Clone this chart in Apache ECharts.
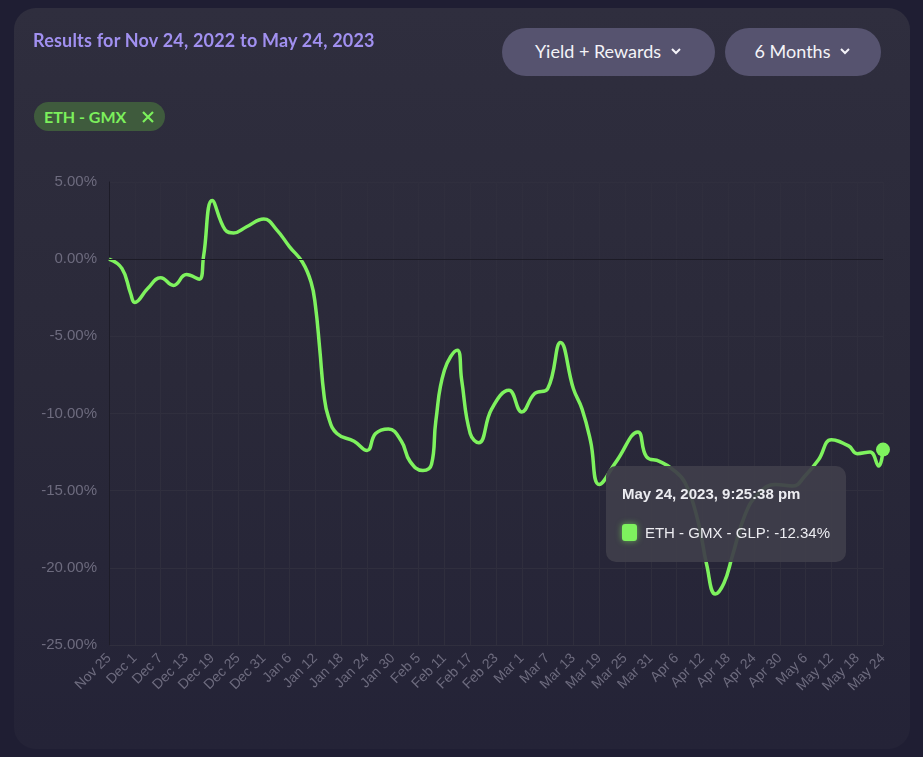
<!DOCTYPE html>
<html>
<head>
<meta charset="utf-8">
<script src="https://cdn.jsdelivr.net/npm/echarts@6/dist/echarts.min.js"></script>
<style>
  html,body{margin:0;padding:0;width:923px;height:757px;background:#1f1e33;overflow:hidden;font-family:"Lato","Liberation Sans",sans-serif;}
  #card{position:absolute;left:14px;top:8px;width:896px;height:741px;border-radius:22px;background:linear-gradient(180deg,#2f2e3e 0%,#2a2939 50%,#242337 100%);}
  #chart{position:absolute;left:0;top:0;width:923px;height:757px;}
  .title{position:absolute;left:33px;top:29px;font-size:18px;font-weight:bold;color:#a190f0;letter-spacing:0.2px;}
  .pill{position:absolute;top:28px;height:48px;border-radius:24px;background:#56536f;color:#f4f3f8;font-size:18px;display:flex;align-items:center;justify-content:center;gap:9px;padding-bottom:3px;box-sizing:border-box;}
  .chip{position:absolute;left:34px;top:102px;width:131px;height:29px;border-radius:15px;background:#3f5b3d;color:#7cf05c;font-size:16px;font-weight:bold;display:flex;align-items:center;padding-left:10px;box-sizing:border-box;}
</style>
</head>
<body>
<div id="card"></div>
<div id="chart"></div>
<div class="title">Results for Nov 24, 2022 to May 24, 2023</div>
<div class="pill" style="left:502px;width:213px;">Yield + Rewards <svg width="12" height="8" viewBox="0 0 12 8"><polyline points="2,2 6,6 10,2" fill="none" stroke="#f4f3f8" stroke-width="2"/></svg></div>
<div class="pill" style="left:725px;width:156px;">6 Months <svg width="12" height="8" viewBox="0 0 12 8"><polyline points="2,2 6,6 10,2" fill="none" stroke="#f4f3f8" stroke-width="2"/></svg></div>
<div class="chip">ETH - GMX<svg style="margin-left:15px" width="14" height="14" viewBox="0 0 14 14"><path d="M2,2 L12,12 M12,2 L2,12" stroke="#7cf05c" stroke-width="2.2"/></svg></div>
<script>
// Day offsets from Nov 25, 2022 and the portfolio return (%) read at those days
const days = [0,3,5,6,9,12,15,18,21,22,24,27,29,32,36,39,42,45,47,48,49,50,51,53,57,60,62,65,68,70,73,75,76,78,81,82,84,86,89,93,96,99,102,105,108,110,112,114,118,123,125,128,131,134,137,139,141,143,145,148,151,155,159,162,165,168,172,174,177,179,180];
const values = [0.0,-0.6,-2.2,-2.8,-1.9,-1.2,-1.7,-1.0,-1.3,0.2,3.8,1.9,1.7,2.1,2.6,1.9,0.8,-0.2,-1.5,-3.0,-5.8,-8.8,-10.2,-11.3,-11.8,-12.4,-11.3,-11.0,-11.8,-13.1,-13.7,-13.3,-10.5,-7.2,-5.9,-7.8,-11.3,-11.9,-9.7,-8.5,-9.9,-8.7,-8.4,-5.4,-8.4,-9.7,-11.8,-14.6,-13.1,-11.2,-12.8,-13.1,-13.6,-14.5,-17.0,-19.8,-21.7,-21.0,-19.2,-16.5,-15.2,-14.6,-14.7,-14.0,-13.0,-11.7,-12.1,-12.6,-12.5,-13.4,-12.34];
const tickLabels = ['Nov 25','Dec 1','Dec 7','Dec 13','Dec 19','Dec 25','Dec 31','Jan 6','Jan 12','Jan 18','Jan 24','Jan 30','Feb 5','Feb 11','Feb 17','Feb 23','Mar 1','Mar 7','Mar 13','Mar 19','Mar 25','Mar 31','Apr 6','Apr 12','Apr 18','Apr 24','Apr 30','May 6','May 12','May 18','May 24'];
const seriesName = 'ETH - GMX - GLP';
const tooltipTitle = 'May 24, 2023, 9:25:38 pm';

const lineData = days.map((d,i)=>[d, values[i]]);
const last = lineData.length - 1;
const green = '#7ef25e';

const chart = echarts.init(document.getElementById('chart'), null, {renderer:'canvas'});
chart.setOption({
  animation:false,
  backgroundColor:'transparent',
  grid:{left:109,right:40,top:182,bottom:112,containLabel:false},
  xAxis:{
    type:'value', min:0, max:180, interval:6,
    axisLine:{show:true,lineStyle:{color:'#1d1c28',width:1}},
    axisTick:{show:true,length:8,lineStyle:{color:'#2f2e3d'}},
    splitLine:{show:true,lineStyle:{color:'#2f2e3d',width:1}},
    axisLabel:{rotate:45,color:'#6d6b7e',fontSize:14,fontFamily:'Liberation Sans, Arial, sans-serif',margin:11,hideOverlap:false,
      formatter:(v)=>tickLabels[Math.round(v/6)] || ''}
  },
  yAxis:{
    type:'value', min:-25, max:5, interval:5,
    axisLine:{show:true,onZero:false,lineStyle:{color:'#1d1c28',width:1}},
    axisTick:{show:false},
    splitLine:{show:true,lineStyle:{color:'#302f3e',width:1}},
    axisLabel:{color:'#6d6b7e',fontSize:15,fontFamily:'Liberation Sans, Arial, sans-serif',margin:12,
      formatter:(v)=>v.toFixed(2)+'%'}
  },
  tooltip:{
    trigger:'item',
    alwaysShowContent:true,
    triggerOn:'none',
    position:[606,466],
    backgroundColor:'rgba(63,62,74,0.93)',
    borderWidth:0,
    padding:[19,16,20,16],
    extraCssText:'border-radius:10px;box-shadow:none;width:208px;',
    formatter:(p)=>'<div style="font-family:Liberation Sans,Arial,sans-serif;font-weight:bold;font-size:15px;color:#ececf1;line-height:17px;margin-bottom:21px;">'+tooltipTitle+'</div>'+
      '<div style="font-family:Liberation Sans,Arial,sans-serif;font-size:15px;color:#ececf1;line-height:19px;display:flex;align-items:center;">'+
      '<span style="display:inline-block;width:16px;height:17px;border-radius:3px;background:'+green+';margin-right:8px;box-shadow:0 0 6px rgba(126,242,94,0.6);"></span>'+
      seriesName+': '+values[values.length-1].toFixed(2)+'%</div>'
  },
  series:[
    {
      type:'line', name:seriesName, data:lineData, smooth:0.45,
      showSymbol:false, symbol:'none',
      lineStyle:{color:green,width:3.5},
      itemStyle:{color:green},
      z:3,
      markLine:{silent:true,symbol:'none',label:{show:false},lineStyle:{color:'#1c1b26',width:1,type:'solid'},data:[{yAxis:0}]}
    },
    {
      type:'scatter', name:seriesName, data:[lineData[last]],
      symbol:'circle', symbolSize:14,
      itemStyle:{color:green,opacity:1},
      z:4
    }
  ]
});
chart.dispatchAction({type:'showTip', seriesIndex:1, dataIndex:0});
</script>
</body>
</html>
